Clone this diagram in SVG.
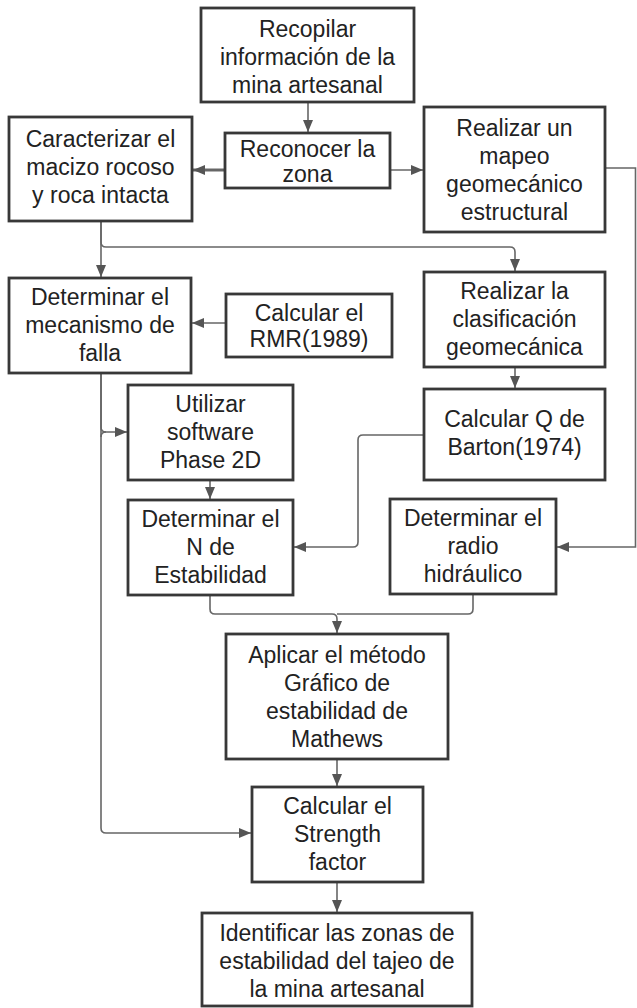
<svg xmlns="http://www.w3.org/2000/svg" width="637" height="1008" viewBox="0 0 637 1008">
<style>
.box{fill:#fff;stroke:#383838;stroke-width:2.8}
.t{font-family:"Liberation Sans",Arial,sans-serif;font-size:23px;fill:#222;text-anchor:middle}
.c{fill:none;stroke:#666;stroke-width:1.6}
.ct{fill:none;stroke:#666;stroke-width:3}
</style>
<defs>
<marker id="ah" markerUnits="userSpaceOnUse" markerWidth="13" markerHeight="13" viewBox="0 0 13 13" refX="12" refY="6.5" orient="auto">
<path d="M0,1.5 L12,6.5 L0,11.5 Z" fill="#555"/>
</marker>
</defs>
<rect width="637" height="1008" fill="#fff"/>
<g id="connectors">
<path class="c" d="M308,102 V132" marker-end="url(#ah)"/>
<path class="ct" d="M225,170 H193" marker-end="url(#ah)"/>
<path class="c" d="M390,170 H423" marker-end="url(#ah)"/>
<path class="c" d="M605,168 H635.5 V547 H557" marker-end="url(#ah)"/>
<path class="c" d="M101,221 V277" marker-end="url(#ah)"/>
<path class="c" d="M101,221 V242 Q101,247 106,247 H510 Q515,247 515,252 V271" marker-end="url(#ah)"/>
<path class="c" d="M226,323 H192" marker-end="url(#ah)"/>
<path class="c" d="M515,367 V388" marker-end="url(#ah)"/>
<path class="c" d="M101,373 V427 Q101,432 106,432 H127" marker-end="url(#ah)"/>
<path class="c" d="M101,437 Q101,432 106,432"/>
<path class="c" d="M101,373 V828 Q101,833 106,833 H251" marker-end="url(#ah)"/>
<path class="c" d="M424,435 H363 Q358,435 358,440 V542 Q358,547 353,547 H294" marker-end="url(#ah)"/>
<path class="c" d="M210,480 V499" marker-end="url(#ah)"/>
<path class="c" d="M210,595 V609 Q210,614 215,614 H332 Q337,614 337,619 V633" marker-end="url(#ah)"/>
<path class="c" d="M473,594 V609 Q473,614 468,614 H337"/>
<path class="c" d="M337,759 V786" marker-end="url(#ah)"/>
<path class="c" d="M337,882 V912" marker-end="url(#ah)"/>
</g>
<g id="recopilar">
<rect class="box" x="201" y="8" width="213" height="94"/>
<text class="t" x="307.5" y="37">Recopilar</text>
<text class="t" x="307.5" y="65">información de la</text>
<text class="t" x="307.5" y="93">mina artesanal</text>
</g>
<g id="reconocer">
<rect class="box" x="225" y="133" width="165" height="55"/>
<text class="t" x="307.5" y="157">Reconocer la</text>
<text class="t" x="307.5" y="182">zona</text>
</g>
<g id="caracterizar">
<rect class="box" x="9" y="117" width="183" height="104"/>
<text class="t" x="100.5" y="147">Caracterizar el</text>
<text class="t" x="100.5" y="175">macizo rocoso</text>
<text class="t" x="100.5" y="203">y roca intacta</text>
</g>
<g id="mapeo">
<rect class="box" x="424" y="107" width="181" height="125"/>
<text class="t" x="514.5" y="136">Realizar un</text>
<text class="t" x="514.5" y="164">mapeo</text>
<text class="t" x="514.5" y="192">geomecánico</text>
<text class="t" x="514.5" y="220">estructural</text>
</g>
<g id="mecanismo">
<rect class="box" x="9" y="278" width="182" height="95"/>
<text class="t" x="100" y="305">Determinar el</text>
<text class="t" x="100" y="333">mecanismo de</text>
<text class="t" x="100" y="361">falla</text>
</g>
<g id="rmr">
<rect class="box" x="226" y="294" width="166" height="63"/>
<text class="t" x="309" y="321">Calcular el</text>
<text class="t" x="309" y="347">RMR(1989)</text>
</g>
<g id="clasificacion">
<rect class="box" x="424" y="272" width="181" height="95"/>
<text class="t" x="514.5" y="299">Realizar la</text>
<text class="t" x="514.5" y="327">clasificación</text>
<text class="t" x="514.5" y="355">geomecánica</text>
</g>
<g id="utilizar">
<rect class="box" x="128" y="385" width="165" height="95"/>
<text class="t" x="210.5" y="412">Utilizar</text>
<text class="t" x="210.5" y="440">software</text>
<text class="t" x="210.5" y="468">Phase 2D</text>
</g>
<g id="barton">
<rect class="box" x="424" y="389" width="181" height="91"/>
<text class="t" x="514.5" y="427">Calcular Q de</text>
<text class="t" x="514.5" y="455">Barton(1974)</text>
</g>
<g id="n-estabilidad">
<rect class="box" x="128" y="500" width="165" height="95"/>
<text class="t" x="210.5" y="527">Determinar el</text>
<text class="t" x="210.5" y="555">N de</text>
<text class="t" x="210.5" y="583">Estabilidad</text>
</g>
<g id="radio">
<rect class="box" x="390" y="499" width="166" height="95"/>
<text class="t" x="473" y="526">Determinar el</text>
<text class="t" x="473" y="554">radio</text>
<text class="t" x="473" y="582">hidráulico</text>
</g>
<g id="mathews">
<rect class="box" x="226" y="634" width="222" height="125"/>
<text class="t" x="337" y="663">Aplicar el método</text>
<text class="t" x="337" y="691">Gráfico de</text>
<text class="t" x="337" y="719">estabilidad de</text>
<text class="t" x="337" y="747">Mathews</text>
</g>
<g id="strength">
<rect class="box" x="252" y="787" width="171" height="95"/>
<text class="t" x="337.5" y="814">Calcular el</text>
<text class="t" x="337.5" y="842">Strength</text>
<text class="t" x="337.5" y="870">factor</text>
</g>
<g id="identificar">
<rect class="box" x="202" y="913" width="270" height="93"/>
<text class="t" x="337" y="941">Identificar las zonas de</text>
<text class="t" x="337" y="969">estabilidad del tajeo de</text>
<text class="t" x="337" y="997">la mina artesanal</text>
</g>
</svg>
